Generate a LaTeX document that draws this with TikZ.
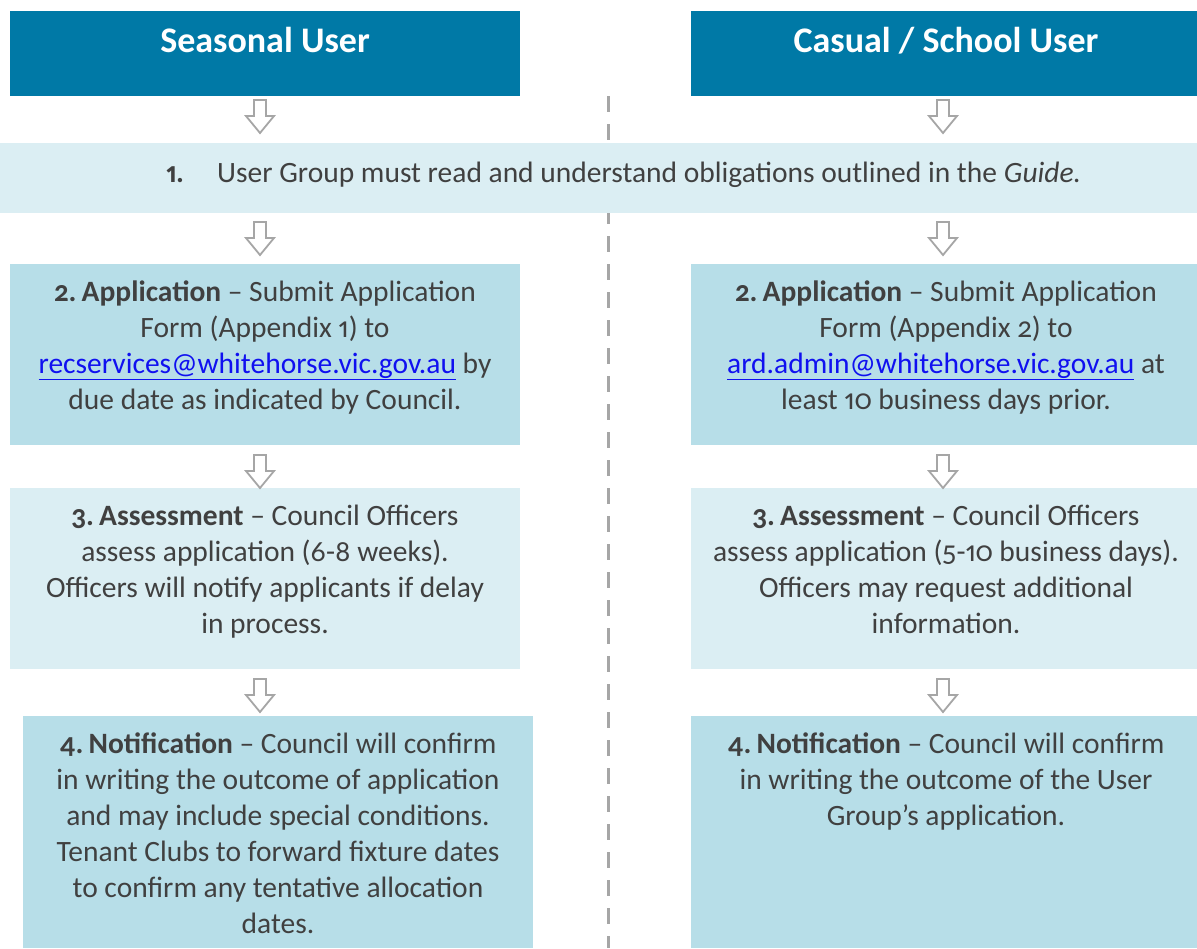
\documentclass[tikz,border=0pt]{standalone}
\usepackage{fontspec}
\setmainfont{Carlito}[Numbers={OldStyle,Proportional}]
\definecolor{hdr}{HTML}{0079A6}
\definecolor{pale}{HTML}{DBEEF3}
\definecolor{mid}{HTML}{B7DEE8}
\definecolor{ink}{HTML}{404040}
\definecolor{linkblue}{HTML}{1010F0}
\definecolor{divgray}{HTML}{A6A6A6}
\newcommand{\mylink}[1]{\textcolor{linkblue}{\underline{#1}}}
\newcommand{\stepno}[2]{\textbf{#1.\kern-1.5pt\ #2}}
\begin{document}
\begin{tikzpicture}[x=1pt,y=-1pt,
  box/.style={inner sep=0,outer sep=0,anchor=north west,draw=none},
  hdrtext/.style={font=\fontsize{36}{44}\selectfont\bfseries,text=white,inner sep=0,anchor=base},
  txt/.style={font=\fontsize{29.5}{36}\selectfont,text=ink,align=center,inner sep=0,anchor=north},
  divider/.style={draw=divgray,line width=3pt,dash pattern=on 16pt off 12pt},
  arrowline/.style={draw=divgray,line width=1.8pt,fill=white,line join=miter},
  harrow/.pic={\path[arrowline] (-6,0) -- (-6,16) -- (-14,16) -- (0,33) -- (14,16) -- (6,16) -- (6,0) -- cycle;}
]
\useasboundingbox (0,0) rectangle (1197,948);
\fill[white] (0,0) rectangle (1197,948);

% divider
\coordinate (dtop) at (608,96);
\coordinate (dbot) at (608,948);
\draw[divider] (dtop) -- (dbot);

% headers
\node[box,fill=hdr,minimum width=510pt,minimum height=85pt] (hL) at (10,11) {};
\node[box,fill=hdr,minimum width=506pt,minimum height=85pt] (hR) at (691,11) {};
\node[hdrtext] (hLt) at (265,52) {Seasonal User};
\node[hdrtext] (hRt) at (946,52) {Casual / School User};

% step 1 band
\node[box,fill=pale,minimum width=1197pt,minimum height=70pt] (s1) at (0,143) {};
\node[font=\fontsize{29.5}{36}\selectfont\bfseries,text=ink,inner sep=0,anchor=base west] (s1n) at (166,182) {1.};
\node[font=\fontsize{29.5}{36}\selectfont,text=ink,inner sep=0,anchor=base west] (s1t) at (217,182) {User Group must read and understand obligations outlined in the \textit{Guide.}};

% step 2
\node[box,fill=mid,minimum width=510pt,minimum height=181pt] (s2L) at (10,264) {};
\node[box,fill=mid,minimum width=506pt,minimum height=181pt] (s2R) at (691,264) {};
\node[txt] (s2Lt) at (265,275.8) {\strut\stepno{2}{Application} – Submit Application\\Form (Appendix 1) to\\\mylink{recservices@whitehorse.vic.gov.au} by\\due date as indicated by Council.};
\node[txt] (s2Rt) at (946,275.8) {\strut\stepno{2}{Application} – Submit Application\\Form (Appendix 2) to\\\mylink{ard.admin@whitehorse.vic.gov.au} at\\least 10 business days prior.};

% step 3
\node[box,fill=pale,minimum width=510pt,minimum height=181pt] (s3L) at (10,488) {};
\node[box,fill=pale,minimum width=506pt,minimum height=181pt] (s3R) at (691,488) {};
\node[txt] (s3Lt) at (265,500.5) {\strut\stepno{3}{Assessment} – Council Officers\\assess application (6-8 weeks).\\Officers will notify applicants if delay\\in process.};
\node[txt] (s3Rt) at (946,500.5) {\strut\stepno{3}{Assessment} – Council Officers\\assess application (5-10 business days).\\Officers may request additional\\information.};

% step 4
\node[box,fill=mid,minimum width=510pt,minimum height=232pt] (s4L) at (23,716) {};
\node[box,fill=mid,minimum width=506pt,minimum height=232pt] (s4R) at (691,716) {};
\node[txt] (s4Lt) at (278,727.8) {\strut\stepno{4}{Notification} – Council will confirm\\in writing the outcome of application\\and may include special conditions.\\Tenant Clubs to forward fixture dates\\to confirm any tentative allocation\\dates.};
\node[txt] (s4Rt) at (946,727.8) {\strut\stepno{4}{Notification} – Council will confirm\\in writing the outcome of the User\\Group’s application.};

% arrows
\pic at (260,100) {harrow};
\pic at (943,100) {harrow};
\pic at (260,222) {harrow};
\pic at (943,222) {harrow};
\pic at (260,455) {harrow};
\pic at (943,455) {harrow};
\pic at (260,679) {harrow};
\pic at (943,679) {harrow};
\end{tikzpicture}
\end{document}
